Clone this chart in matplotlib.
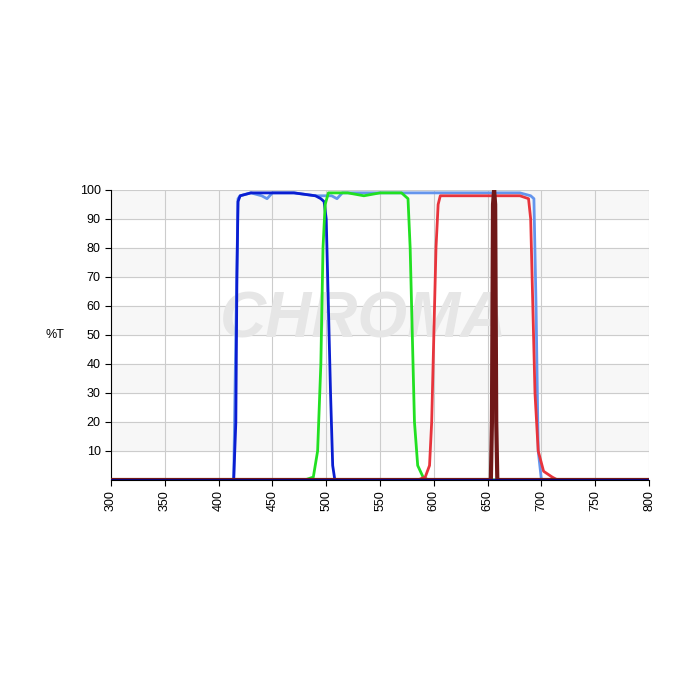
import matplotlib
matplotlib.use("Agg")
import matplotlib.pyplot as plt
plt.rcParams['font.family'] = ['Liberation Sans', 'DejaVu Sans']

lb_x = [300, 414, 416, 418, 420, 430, 440, 445, 450, 470, 490, 500, 505, 510, 515, 520, 540, 560, 600, 620, 640, 660, 680, 690, 693, 695, 697, 700, 800]
lb_y = [0, 0, 50, 97, 98, 99, 98, 97, 99, 99, 98, 98, 98, 97, 99, 99, 99, 99, 99, 99, 99, 99, 99, 98, 97, 60, 10, 0, 0]
b_x = [300, 414, 416, 417, 418, 420, 430, 450, 470, 490, 495, 498, 500, 502, 504, 506, 508, 800]
b_y = [0, 0, 20, 70, 96, 98, 99, 99, 99, 98, 97, 96, 90, 60, 30, 5, 0, 0]
g_x = [300, 480, 488, 492, 495, 497, 499, 502, 520, 535, 550, 570, 576, 578, 580, 582, 585, 590, 595, 800]
g_y = [0, 0, 1, 10, 40, 80, 95, 99, 99, 98, 99, 99, 97, 80, 50, 20, 5, 1, 0, 0]
r_x = [300, 585, 592, 596, 598, 600, 602, 604, 606, 620, 640, 660, 680, 688, 690, 692, 694, 697, 702, 710, 715, 800]
r_y = [0, 0, 1, 5, 20, 50, 80, 95, 98, 98, 98, 98, 98, 97, 90, 60, 30, 10, 3, 1, 0, 0]
d_x = [300, 653, 654, 655, 656, 657, 658, 659, 800]
d_y = [0, 0, 20, 95, 100, 95, 20, 0, 0]

fig = plt.figure(figsize=(7, 7), dpi=100)
ax = fig.add_axes([0.1586, 0.3143, 0.7686, 0.4143])
for k in range(0, 100, 20):
    ax.axhspan(k + 10, k + 20, color="#f7f7f7", zorder=0)
ax.text(535, 55, "CHROMA", fontsize=46, fontweight="bold", style="italic",
        color="#e6e6e6", ha="center", va="center", zorder=1)
ax.plot(lb_x, lb_y, color="#6495ed", lw=2, zorder=3)
ax.plot(b_x, b_y, color="#0a1ed2", lw=2, zorder=4)
ax.plot(g_x, g_y, color="#22e022", lw=2, zorder=4)
ax.plot(r_x, r_y, color="#e8343c", lw=2, zorder=4)
ax.plot(d_x, d_y, color="#701818", lw=3, zorder=5)
ax.plot([300, 800], [0, 0], color="#000080", lw=2, zorder=6)
ax.set_xlim(300, 800)
ax.set_ylim(0, 100)
ax.set_xticks(range(300, 801, 50))
ax.set_xticklabels([str(v) for v in range(300, 801, 50)], rotation=90, fontsize=9)
ax.set_yticks(range(10, 101, 10))
ax.tick_params(axis="y", labelsize=9, length=4)
ax.tick_params(axis="x", length=4)
ax.grid(True, color="#cccccc", lw=0.8, zorder=2)
ax.set_axisbelow(True)
for s in ["top", "right"]:
    ax.spines[s].set_visible(False)
ax.set_ylabel("%T", rotation=0, fontsize=9, labelpad=18, va="center")
fig.savefig("out.png", dpi=100)
